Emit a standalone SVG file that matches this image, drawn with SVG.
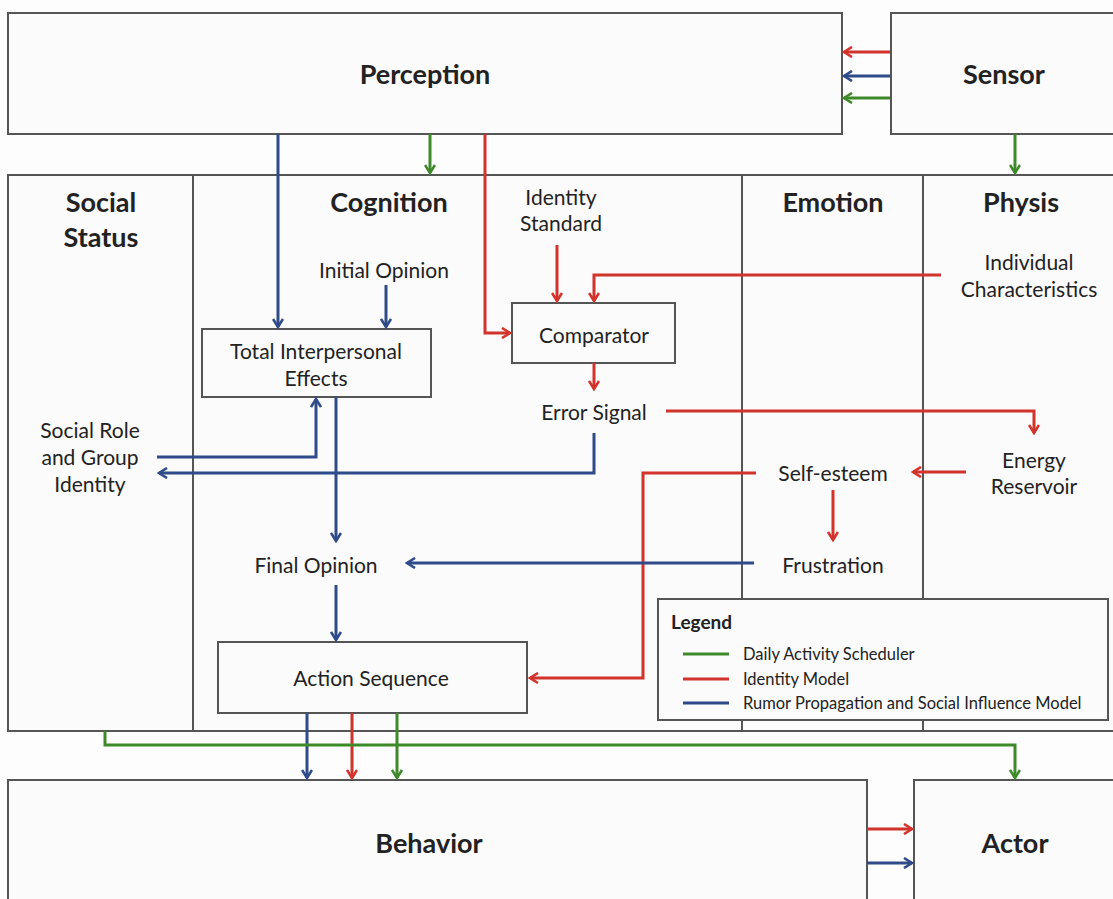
<svg xmlns="http://www.w3.org/2000/svg" width="1113" height="899" viewBox="0 0 1113 899">
<defs>
<style>
.box{fill:#fbfbfb;stroke:#555;stroke-width:2}
.div{stroke:#555;stroke-width:2}
.t{font-family:Lato,"Open Sans",sans-serif;fill:#222;text-anchor:middle}
.h{font-size:27px;font-weight:bold}
.b{font-size:21px}
.l{font-size:16.5px;text-anchor:start}
.c{fill:none;stroke-width:3}
.r{stroke:#d2332b}
.u{stroke:#2f4b8a}
.g{stroke:#3e8a2a}
</style>
<marker id="ar" viewBox="0 0 12 12" refX="10" refY="6" markerWidth="12" markerHeight="12" markerUnits="userSpaceOnUse" orient="auto"><path d="M2,1 L10,6 L2,11" fill="none" stroke="#d2332b" stroke-width="2.6"/></marker>
<marker id="au" viewBox="0 0 12 12" refX="10" refY="6" markerWidth="12" markerHeight="12" markerUnits="userSpaceOnUse" orient="auto"><path d="M2,1 L10,6 L2,11" fill="none" stroke="#2f4b8a" stroke-width="2.6"/></marker>
<marker id="ag" viewBox="0 0 12 12" refX="10" refY="6" markerWidth="12" markerHeight="12" markerUnits="userSpaceOnUse" orient="auto"><path d="M2,1 L10,6 L2,11" fill="none" stroke="#3e8a2a" stroke-width="2.6"/></marker>
</defs>
<rect width="1113" height="899" fill="#fdfdfd"/>
<g id="perception"><rect class="box" x="8" y="13" width="834" height="121"/><text class="t h" x="425" y="84">Perception</text></g>
<g id="sensor"><rect class="box" x="891" y="13" width="230" height="121"/><text class="t h" x="1004" y="84">Sensor</text></g>
<g id="main"><rect class="box" x="8" y="175" width="1112" height="556"/>
<line class="div" x1="193" y1="175" x2="193" y2="731"/>
<line class="div" x1="742" y1="175" x2="742" y2="731"/>
<line class="div" x1="923" y1="175" x2="923" y2="731"/></g>
<g id="social-status"><text class="t h" x="101" y="212">Social</text><text class="t h" x="101" y="247">Status</text></g>
<g id="cognition"><text class="t h" x="389" y="212">Cognition</text></g>
<g id="emotion"><text class="t h" x="833" y="212">Emotion</text></g>
<g id="physis"><text class="t h" x="1021" y="212">Physis</text></g>
<g id="initial-opinion"><text class="t b" x="384" y="278">Initial Opinion</text></g>
<g id="identity-standard"><text class="t b" x="561" y="205">Identity</text><text class="t b" x="561" y="231">Standard</text></g>
<g id="individual-characteristics"><text class="t b" x="1029" y="270">Individual</text><text class="t b" x="1029" y="297">Characteristics</text></g>
<g id="tie"><rect class="box" x="202" y="329" width="229" height="68"/><text class="t b" x="316" y="359">Total Interpersonal</text><text class="t b" x="316" y="386">Effects</text></g>
<g id="comparator"><rect class="box" x="512" y="303" width="163" height="60"/><text class="t b" x="594" y="343">Comparator</text></g>
<g id="error-signal"><text class="t b" x="594" y="420">Error Signal</text></g>
<g id="energy-reservoir"><text class="t b" x="1034" y="468">Energy</text><text class="t b" x="1034" y="494">Reservoir</text></g>
<g id="self-esteem"><text class="t b" x="833" y="481">Self-esteem</text></g>
<g id="social-role"><text class="t b" x="90" y="438">Social Role</text><text class="t b" x="90" y="465">and Group</text><text class="t b" x="90" y="492">Identity</text></g>
<g id="frustration"><text class="t b" x="833" y="573">Frustration</text></g>
<g id="final-opinion"><text class="t b" x="316" y="573">Final Opinion</text></g>
<g id="action-sequence"><rect class="box" x="218" y="642" width="309" height="71"/><text class="t b" x="371" y="686">Action Sequence</text></g>
<g id="behavior"><rect class="box" x="8" y="780" width="859" height="130"/><text class="t h" x="429" y="853">Behavior</text></g>
<g id="actor"><rect class="box" x="914" y="780" width="210" height="130"/><text class="t h" x="1015" y="853">Actor</text></g>
<g id="connectors">
<path class="c r" d="M890,52 H844" marker-end="url(#ar)"/>
<path class="c u" d="M890,76 H844" marker-end="url(#au)"/>
<path class="c g" d="M890,98 H844" marker-end="url(#ag)"/>
<path class="c g" d="M430,134 V173" marker-end="url(#ag)"/>
<path class="c g" d="M1015,134 V173" marker-end="url(#ag)"/>
<path class="c u" d="M278,134 V327" marker-end="url(#au)"/>
<path class="c r" d="M485,134 V333 H510" marker-end="url(#ar)"/>
<path class="c u" d="M386,285 V327" marker-end="url(#au)"/>
<path class="c r" d="M557,245 V301" marker-end="url(#ar)"/>
<path class="c r" d="M941,275 H594 V301" marker-end="url(#ar)"/>
<path class="c r" d="M594,363 V389" marker-end="url(#ar)"/>
<path class="c r" d="M666,411 H1034 V433" marker-end="url(#ar)"/>
<path class="c r" d="M966,472 H913" marker-end="url(#ar)"/>
<path class="c r" d="M756,473 H643 V678 H530" marker-end="url(#ar)"/>
<path class="c r" d="M833,490 V540" marker-end="url(#ar)"/>
<path class="c u" d="M754,563 H407" marker-end="url(#au)"/>
<path class="c u" d="M157,457 H316 V399" marker-end="url(#au)"/>
<path class="c u" d="M594,433 V473 H159" marker-end="url(#au)"/>
<path class="c u" d="M336,397 V541" marker-end="url(#au)"/>
<path class="c u" d="M336,585 V640" marker-end="url(#au)"/>
<path class="c u" d="M307,713 V778" marker-end="url(#au)"/>
<path class="c r" d="M352,713 V778" marker-end="url(#ar)"/>
<path class="c g" d="M397,713 V778" marker-end="url(#ag)"/>
<path class="c g" d="M105,731 V745 H1015 V778" marker-end="url(#ag)"/>
<path class="c r" d="M867,829 H912" marker-end="url(#ar)"/>
<path class="c u" d="M867,863 H912" marker-end="url(#au)"/>
</g>
<g id="legend"><rect class="box" x="658" y="599" width="450" height="121"/>
<text class="t" x="671" y="629" style="font-size:19px;font-weight:bold;text-anchor:start">Legend</text>
<line class="c g" x1="683" y1="654" x2="729" y2="654"/>
<line class="c r" x1="683" y1="679" x2="729" y2="679"/>
<line class="c u" x1="683" y1="703" x2="729" y2="703"/>
<text class="t l" x="743" y="660">Daily Activity Scheduler</text>
<text class="t l" x="743" y="685">Identity Model</text>
<text class="t l" x="743" y="709">Rumor Propagation and Social Influence Model</text>
</g>
</svg>
